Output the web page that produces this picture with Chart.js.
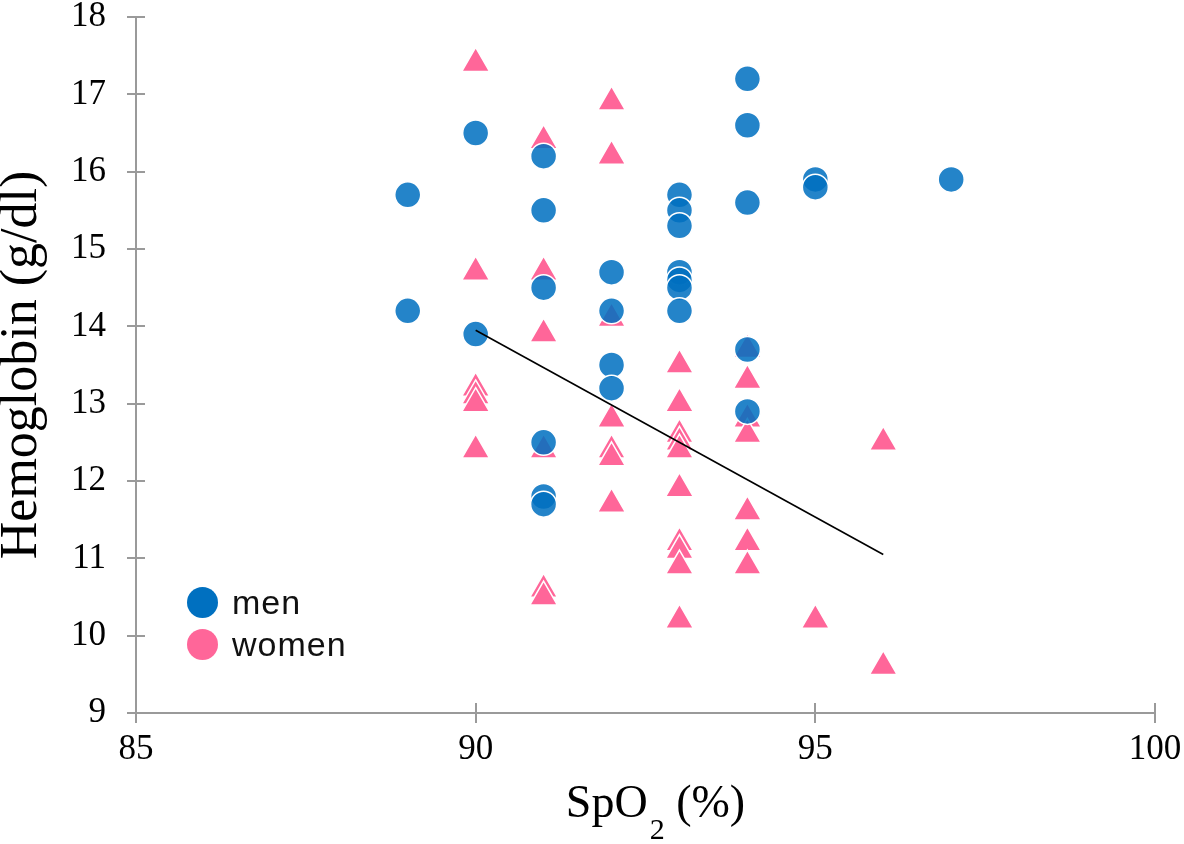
<!DOCTYPE html>
<html lang="en">
<head>
<meta charset="UTF-8">
<title>Hemoglobin vs SpO2</title>
<script src="https://cdn.jsdelivr.net/npm/chart.js"></script>
<style>
    body { margin: 0; background: #fff; }
    .wrap { position: relative; width: 1184px; height: 844px; }
    .legend {
        position: absolute; left: 187px; top: 581px;
        font-family: 'Liberation Sans', Arial, sans-serif;
        font-size: 34px; letter-spacing: 1px; color: #111;
    }
    .legend div { display: flex; align-items: center; height: 42px; }
    .legend .dot { width: 31px; height: 31px; border-radius: 50%; margin-right: 14px; }
</style>
</head>
<body>
<div class="wrap">
    <canvas id="chart"></canvas>
    <div class="legend">
        <div><span class="dot" style="background:#0070C0"></span>men</div>
        <div><span class="dot" style="background:#FF6699"></span>women</div>
    </div>
</div>
<script>
// men (circles)
const menX = [89, 89, 90, 90, 91, 91, 91, 91, 91, 91, 92, 92, 92, 92,
              93, 93, 93, 93, 93, 93, 93, 94, 94, 94, 94, 94, 95, 95, 97];
const menY = [15.7, 14.2, 16.5, 13.9, 16.2, 15.5, 14.5, 12.5, 11.8, 11.7, 14.7, 14.2, 13.5, 13.2,
              15.7, 15.5, 15.3, 14.7, 14.6, 14.5, 14.2, 17.2, 16.6, 15.6, 13.7, 12.9, 15.9, 15.8, 15.9];

// women (triangles)
const womenX = [90, 90, 90, 90, 90, 90,
                91, 91, 91, 91, 91, 91,
                92, 92, 92, 92, 92, 92, 92,
                93, 93, 93, 93, 93, 93, 93, 93, 93, 93,
                94, 94, 94, 94, 94, 94, 94,
                95, 96, 96];
const womenY = [17.4, 14.7, 13.2, 13.1, 13.0, 12.4,
                16.4, 14.7, 13.9, 12.4, 10.6, 10.5,
                16.9, 16.2, 14.1, 12.8, 12.4, 12.3, 11.7,
                13.5, 13.0, 12.6, 12.5, 12.4, 11.9, 11.2, 11.1, 10.9, 10.2,
                13.7, 13.3, 12.8, 12.6, 11.6, 11.2, 10.9,
                10.2, 12.5, 9.6];

// trend line
const trendX = [90, 96];
const trendY = [13.95, 11.05];

const xTicks = [85, 90, 95, 100];
const yTicks = [9, 10, 11, 12, 13, 14, 15, 16, 17, 18];

const axisColor = '#9a9a9a';
const serif = "'Liberation Serif', 'Times New Roman', serif";

function pts(xs, ys) { return xs.map((x, i) => ({ x: x, y: ys[i] })); }

// ticks that cross the axis line, like the original
const crossTicks = {
    id: 'crossTicks',
    afterDraw(chart) {
        const { ctx, chartArea, scales } = chart;
        ctx.save();
        ctx.strokeStyle = axisColor;
        ctx.lineWidth = 2;
        ctx.beginPath();
        xTicks.forEach(v => {
            const px = Math.round(scales.x.getPixelForValue(v));
            ctx.moveTo(px, chartArea.bottom);
            ctx.lineTo(px, chartArea.bottom - 10);
        });
        yTicks.forEach(v => {
            const py = Math.round(scales.y.getPixelForValue(v));
            ctx.moveTo(chartArea.left, py);
            ctx.lineTo(chartArea.left + 9, py);
        });
        ctx.stroke();
        ctx.restore();
    }
};

// x title with subscript "2"
const xTitle = {
    id: 'xTitle',
    afterDraw(chart) {
        const { ctx, chartArea } = chart;
        const big = '46px ' + serif, small = '30px ' + serif;
        ctx.save();
        ctx.fillStyle = '#000';
        ctx.textBaseline = 'alphabetic';
        ctx.font = big;
        const w1 = ctx.measureText('SpO').width;
        const w3 = ctx.measureText(' (%)').width;
        ctx.font = small;
        const w2 = ctx.measureText('2').width;
        const total = w1 + 2 + w2 + w3;
        let x = (chartArea.left + chartArea.right) / 2 - total / 2 + 10;
        const base = 817;
        ctx.font = big;
        ctx.fillText('SpO', x, base);
        x += w1 + 2;
        ctx.font = small;
        ctx.fillText('2', x, base + 22);
        x += w2;
        ctx.font = big;
        ctx.fillText(' (%)', x, base);
        ctx.restore();
    }
};

const ctx = document.getElementById('chart').getContext('2d');
new Chart(ctx, {
    type: 'scatter',
    data: {
        datasets: [
            {
                type: 'line',
                label: 'trend',
                data: pts(trendX, trendY),
                borderColor: '#000',
                borderWidth: 1.6,
                pointRadius: 0,
                fill: false,
                order: 0
            },
            {
                label: 'men',
                data: pts(menX, menY),
                pointStyle: 'circle',
                pointRadius: 13,
                backgroundColor: 'rgba(0, 112, 192, 0.86)',
                borderColor: '#ffffff',
                borderWidth: 1.5,
                order: 1
            },
            {
                label: 'women',
                data: pts(womenX, womenY),
                pointStyle: 'triangle',
                pointRadius: 16,
                backgroundColor: '#FF6699',
                borderColor: '#ffffff',
                borderWidth: 1.5,
                order: 2
            }
        ]
    },
    options: {
        responsive: true,
        maintainAspectRatio: false,
        animation: false,
        layout: { autoPadding: false, padding: { left: 0, top: 17, right: 29, bottom: 0 } },
        plugins: {
            legend: { display: false },
            tooltip: { enabled: false }
        },
        scales: {
            x: {
                type: 'linear',
                min: 85, max: 100,
                afterBuildTicks(scale) { scale.ticks = xTicks.map(v => ({ value: v })); },
                afterFit(scale) { scale.height = 131; scale.paddingLeft = 0; scale.paddingRight = 0; },
                grid: { drawOnChartArea: false, drawTicks: true, tickLength: 10, color: axisColor, lineWidth: 2 },
                border: { color: axisColor, width: 2 },
                ticks: { color: '#000', padding: 9, font: { family: serif, size: 35, lineHeight: 1 } }
            },
            y: {
                type: 'linear',
                min: 9, max: 18,
                afterBuildTicks(scale) { scale.ticks = yTicks.map(v => ({ value: v })); },
                afterFit(scale) { scale.width = 136; scale.paddingTop = 0; scale.paddingBottom = 0; },
                grid: { drawOnChartArea: false, drawTicks: true, tickLength: 9, color: axisColor, lineWidth: 2 },
                border: { color: axisColor, width: 2 },
                ticks: { color: '#000', padding: 21, font: { family: serif, size: 35, lineHeight: 1 } },
                title: {
                    display: true,
                    text: 'Hemoglobin (g/dl)',
                    color: '#000',
                    padding: 0,
                    font: { family: serif, size: 52, lineHeight: 0.85 }
                }
            }
        }
    },
    plugins: [crossTicks, xTitle]
});
</script>
</body>
</html>
